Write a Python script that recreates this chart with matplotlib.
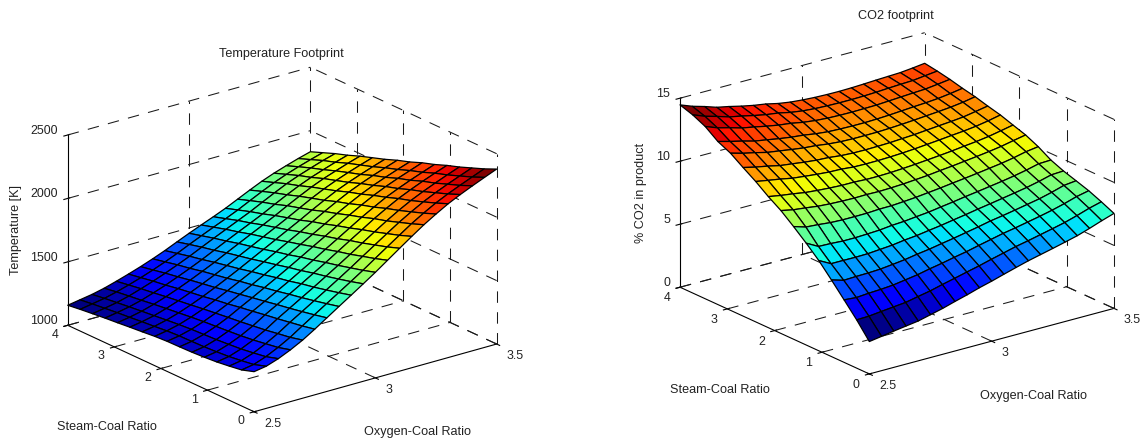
import matplotlib

matplotlib.use("Agg")
import matplotlib.pyplot as plt
import numpy as np
from mpl_toolkits.mplot3d import proj3d

plt.rcParams["font.family"] = ["Liberation Sans", "DejaVu Sans"]
plt.rcParams["font.size"] = 8.9

oxygen_ratio = [2.5, 2.55, 2.6, 2.65, 2.7, 2.75, 2.8, 2.85, 2.9, 2.95, 3.0,
                3.05, 3.1, 3.15, 3.2, 3.25, 3.3, 3.35, 3.4, 3.45, 3.5]
steam_ratio = [0, 0.267, 0.533, 0.8, 1.067, 1.333, 1.6, 1.867, 2.133, 2.4,
               2.667, 2.933, 3.2, 3.467, 3.733, 4]

# one row per oxygen ratio, one column per steam ratio
temperature = [
    [1316, 1284, 1269, 1256, 1248, 1242, 1239, 1237, 1231, 1221, 1212, 1202, 1193, 1182, 1171, 1158],
    [1332, 1300, 1285, 1272, 1264, 1258, 1255, 1253, 1247, 1237, 1228, 1218, 1209, 1198, 1187, 1174],
    [1365, 1335, 1319, 1305, 1296, 1288, 1283, 1278, 1270, 1260, 1249, 1239, 1228, 1216, 1204, 1190],
    [1408, 1381, 1365, 1349, 1337, 1328, 1320, 1312, 1302, 1290, 1279, 1267, 1253, 1241, 1228, 1212],
    [1458, 1434, 1418, 1401, 1388, 1375, 1364, 1352, 1340, 1326, 1313, 1300, 1285, 1272, 1256, 1240],
    [1517, 1497, 1480, 1463, 1448, 1431, 1416, 1398, 1384, 1366, 1352, 1337, 1319, 1305, 1287, 1270],
    [1580, 1558, 1538, 1519, 1502, 1483, 1466, 1447, 1430, 1410, 1394, 1377, 1358, 1341, 1321, 1302],
    [1643, 1619, 1597, 1576, 1557, 1536, 1518, 1496, 1478, 1456, 1438, 1420, 1398, 1380, 1358, 1337],
    [1705, 1679, 1655, 1632, 1613, 1589, 1570, 1547, 1527, 1504, 1484, 1464, 1441, 1421, 1398, 1375],
    [1768, 1740, 1715, 1691, 1670, 1645, 1624, 1600, 1578, 1554, 1533, 1512, 1487, 1466, 1442, 1417],
    [1832, 1802, 1776, 1750, 1727, 1701, 1679, 1652, 1630, 1604, 1581, 1559, 1533, 1510, 1484, 1458],
    [1900, 1868, 1840, 1811, 1787, 1759, 1735, 1707, 1682, 1654, 1630, 1606, 1578, 1553, 1525, 1497],
    [1968, 1933, 1903, 1873, 1847, 1816, 1790, 1760, 1734, 1704, 1678, 1652, 1622, 1596, 1565, 1535],
    [2035, 1998, 1966, 1934, 1906, 1874, 1846, 1814, 1787, 1754, 1727, 1699, 1667, 1639, 1607, 1575],
    [2100, 2062, 2028, 1994, 1966, 1932, 1903, 1870, 1841, 1807, 1778, 1750, 1716, 1687, 1654, 1620],
    [2158, 2119, 2084, 2050, 2020, 1985, 1956, 1921, 1892, 1857, 1828, 1798, 1764, 1734, 1700, 1665],
    [2212, 2172, 2136, 2101, 2071, 2036, 2005, 1970, 1940, 1905, 1874, 1844, 1809, 1779, 1743, 1708],
    [2258, 2217, 2181, 2145, 2114, 2078, 2048, 2012, 1981, 1945, 1914, 1884, 1848, 1817, 1781, 1745],
    [2300, 2258, 2222, 2185, 2154, 2117, 2086, 2049, 2018, 1981, 1950, 1918, 1882, 1850, 1814, 1777],
    [2340, 2297, 2260, 2223, 2191, 2153, 2121, 2084, 2052, 2015, 1983, 1951, 1914, 1882, 1844, 1807],
    [2379, 2335, 2297, 2259, 2226, 2188, 2156, 2117, 2085, 2047, 2014, 1981, 1943, 1910, 1872, 1834],
]

co2_percent = [
    [2.57, 3.83, 4.96, 6.08, 7.16, 8.08, 8.94, 9.75, 10.40, 11.14, 11.79, 12.47, 12.94, 13.67, 14.14, 14.47],
    [2.72, 3.86, 4.88, 5.79, 6.65, 7.56, 8.64, 9.55, 10.23, 10.97, 11.56, 12.20, 12.68, 13.30, 13.76, 14.10],
    [2.88, 3.97, 4.96, 5.83, 6.65, 7.53, 8.57, 9.44, 10.10, 10.81, 11.38, 11.99, 12.45, 13.05, 13.49, 13.82],
    [3.02, 4.07, 5.01, 5.85, 6.64, 7.47, 8.47, 9.31, 9.94, 10.62, 11.16, 11.75, 12.19, 12.77, 13.19, 13.50],
    [3.16, 4.17, 5.09, 5.90, 6.66, 7.47, 8.43, 9.24, 9.85, 10.51, 11.04, 11.61, 12.03, 12.59, 13.00, 13.30],
    [3.40, 4.37, 5.24, 6.01, 6.74, 7.51, 8.43, 9.20, 9.78, 10.41, 10.91, 11.46, 11.86, 12.39, 12.78, 13.07],
    [3.64, 4.56, 5.39, 6.13, 6.82, 7.56, 8.44, 9.18, 9.73, 10.33, 10.81, 11.33, 11.72, 12.22, 12.59, 12.87],
    [3.93, 4.81, 5.60, 6.30, 6.96, 7.67, 8.50, 9.20, 9.73, 10.30, 10.76, 11.25, 11.62, 12.10, 12.46, 12.72],
    [4.20, 5.04, 5.78, 6.44, 7.06, 7.73, 8.51, 9.18, 9.68, 10.21, 10.65, 11.12, 11.47, 11.92, 12.25, 12.50],
    [4.50, 5.28, 5.99, 6.62, 7.21, 7.84, 8.58, 9.21, 9.68, 10.19, 10.60, 11.04, 11.37, 11.80, 12.11, 12.35],
    [4.76, 5.51, 6.18, 6.79, 7.35, 7.94, 8.66, 9.26, 9.71, 10.20, 10.59, 11.01, 11.33, 11.73, 12.03, 12.26],
    [5.05, 5.77, 6.41, 6.98, 7.52, 8.09, 8.77, 9.34, 9.77, 10.23, 10.61, 11.01, 11.31, 11.70, 11.99, 12.20],
    [5.33, 6.01, 6.63, 7.17, 7.68, 8.23, 8.88, 9.42, 9.84, 10.28, 10.64, 11.02, 11.31, 11.69, 11.97, 12.17],
    [5.60, 6.26, 6.85, 7.38, 7.86, 8.39, 9.01, 9.54, 9.93, 10.35, 10.70, 11.06, 11.34, 11.71, 11.97, 12.16],
    [5.83, 6.46, 7.03, 7.54, 8.02, 8.53, 9.13, 9.64, 10.02, 10.44, 10.76, 11.12, 11.39, 11.73, 11.99, 12.18],
    [6.06, 6.68, 7.23, 7.72, 8.19, 8.68, 9.26, 9.76, 10.12, 10.53, 10.85, 11.19, 11.46, 11.79, 12.03, 12.22],
    [6.30, 6.90, 7.43, 7.91, 8.36, 8.83, 9.40, 9.88, 10.24, 10.63, 10.94, 11.27, 11.53, 11.85, 12.09, 12.27],
    [6.55, 7.13, 7.65, 8.10, 8.54, 9.00, 9.54, 10.01, 10.35, 10.72, 11.02, 11.35, 11.59, 11.91, 12.14, 12.31],
    [6.87, 7.42, 7.91, 8.35, 8.76, 9.20, 9.72, 10.16, 10.49, 10.84, 11.12, 11.44, 11.67, 11.96, 12.18, 12.35],
    [7.22, 7.74, 8.21, 8.64, 9.02, 9.44, 9.94, 10.36, 10.68, 11.01, 11.29, 11.57, 11.80, 12.08, 12.30, 12.45],
    [7.54, 8.00, 8.42, 8.75, 9.07, 9.48, 10.08, 10.55, 10.88, 11.22, 11.47, 11.75, 11.96, 12.21, 12.41, 12.57],
]

oxygen_ticks = [2.5, 3, 3.5]
oxygen_ticklabels = ["2.5", "3", "3.5"]
steam_ticks = [0, 1, 2, 3, 4]
steam_ticklabels = ["0", "1", "2", "3", "4"]
temperature_ticks = [1000, 1500, 2000, 2500]
temperature_ticklabels = ["1000", "1500", "2000", "2500"]
co2_ticks = [0, 5, 10, 15]
co2_ticklabels = ["0", "5", "10", "15"]

FIG_W, FIG_H = 1143, 440
AX_SIZE = 500  # px, mplot3d axes are square
TEXT_COLOR = "#222222"
DASHES = (0, (11, 9))


def add_text(fig, x, y, s, **kwargs):
    fig.text(x / FIG_W, 1 - y / FIG_H, s, ha="center", va="center",
             color=TEXT_COLOR, fontsize=9.1, **kwargs)


def tick_label(ax, x, y, z, s, dx, dy, ha):
    # mplot3d resets tick label transforms, so these are annotations on the tick
    px, py, _ = proj3d.proj_transform(x, y, z, ax.get_proj())
    ax.annotate(s, xy=(px, py), xytext=(dx, dy), textcoords="offset pixels",
                ha=ha, va="center", color=TEXT_COLOR, annotation_clip=False)


def draw_grid(ax, zticks):
    # own dashed grid, so the lines shared by two walls are drawn only once
    x0, x1 = oxygen_ticks[0], oxygen_ticks[-1]
    y0, y1 = steam_ticks[0], steam_ticks[-1]
    z0, z1 = zticks[0], zticks[-1]
    style = dict(color="#1a1a1a", linewidth=0.75, linestyle=DASHES, zorder=1)
    for x in oxygen_ticks[1:]:
        ax.plot([x, x], [y0, y1], [z0, z0], **style)
        ax.plot([x, x], [y1, y1], [z0, z1], **style)
    for y in steam_ticks[1:]:
        ax.plot([x0, x1], [y, y], [z0, z0], **style)
    for y in steam_ticks[:-1]:
        ax.plot([x1, x1], [y, y], [z0, z1], **style)
    for z in zticks:
        ax.plot([x0, x1], [y1, y1], [z, z], **style)
        ax.plot([x1, x1], [y0, y1], [z, z], **style)


def draw_surface(fig, z_values, zticks, zticklabels, center, box, elev, azim, x_drop, y_drop):
    # center and box are pixels of the reference: box mid point, box edge lengths
    left = center[0] - AX_SIZE * 0.095 / 0.185
    bottom = FIG_H - center[1] - AX_SIZE * 0.095 / 0.185
    ax = fig.add_axes(
        [left / FIG_W, bottom / FIG_H, AX_SIZE / FIG_W, AX_SIZE / FIG_H],
        projection="3d",
        proj_type="ortho",
        computed_zorder=False,
    )
    ax.patch.set_alpha(0)
    zoom = np.linalg.norm(box) / (AX_SIZE / 1.85) / (1.8294640721620434 * 25 / 24)
    ax.set_box_aspect(box, zoom=zoom)
    ax.view_init(elev=elev, azim=azim)

    draw_grid(ax, zticks)

    X, Y = np.meshgrid(oxygen_ratio, steam_ratio, indexing="ij")
    ax.plot_surface(
        X,
        Y,
        np.array(z_values),
        rstride=1,
        cstride=1,
        cmap="jet",
        edgecolor="black",
        linewidth=0.9,
        shade=False,
        zorder=3,
    )

    ax.set_xlim(oxygen_ticks[0], oxygen_ticks[-1])
    ax.set_ylim(steam_ticks[0], steam_ticks[-1])
    ax.set_zlim(zticks[0], zticks[-1])
    ax.set_xticks(oxygen_ticks)
    ax.set_xticklabels(["" for _ in oxygen_ticks])
    ax.set_yticks(steam_ticks)
    ax.set_yticklabels(["" for _ in steam_ticks])
    ax.set_zticks(zticks)
    ax.set_zticklabels(["" for _ in zticks])
    ax.grid(False)
    ax.tick_params(axis="both", color="black")

    for axis in (ax.xaxis, ax.yaxis, ax.zaxis):
        axis.set_pane_color((1, 1, 1, 0))
        axis.pane.set_edgecolor("none")
        axis.line.set_linewidth(0.8)
        axis.line.set_color("black")

    for x, s in zip(oxygen_ticks, oxygen_ticklabels):
        tick_label(ax, x, steam_ticks[0], zticks[0], s, 10, -x_drop, "left")
    for y, s in zip(steam_ticks, steam_ticklabels):
        tick_label(ax, oxygen_ticks[0], y, zticks[0], s, -13, -y_drop, "center")
    for z, s in zip(zticks, zticklabels):
        tick_label(ax, oxygen_ticks[0], steam_ticks[-1], z, s, -10, 4, "right")
    return ax


fig = plt.figure(figsize=(FIG_W / 100, FIG_H / 100), dpi=100)

draw_surface(fig, temperature, temperature_ticks, temperature_ticklabels,
             (282.2, 239.5), (307, 304, 204), 21.1, -127.8, 12, 9.5)
draw_surface(fig, co2_percent, co2_ticks, co2_ticklabels,
             (897, 203.3), (308, 311.7, 201.8), 20.5, -127.4, 12, 11)

add_text(fig, 281, 53.5, "Temperature Footprint")
add_text(fig, 16, 230, "Temperature [K]", rotation=90)
add_text(fig, 107, 427, "Steam-Coal Ratio")
add_text(fig, 417, 432, "Oxygen-Coal Ratio")

add_text(fig, 896, 16, "CO2 footprint")
add_text(fig, 641, 193, "% CO2 in product", rotation=90)
add_text(fig, 720, 390, "Steam-Coal Ratio")
add_text(fig, 1033, 396, "Oxygen-Coal Ratio")

fig.savefig("out.png", dpi=100)
